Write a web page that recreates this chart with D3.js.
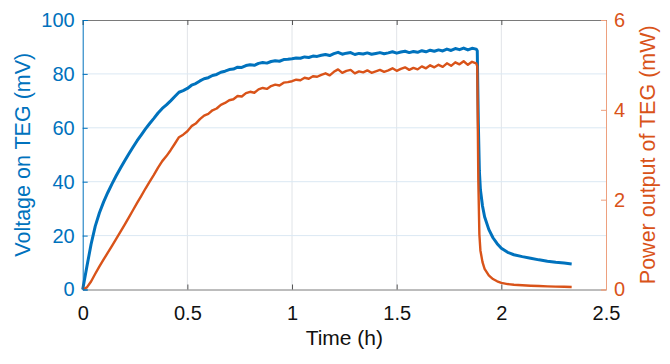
<!DOCTYPE html>
<html>
<head>
<meta charset="utf-8">
<script src="https://cdn.jsdelivr.net/npm/d3@7"></script>
<style>
body { margin: 0; background: #fff; }
text { font-family: "Liberation Sans", Arial, sans-serif; }
</style>
</head>
<body>
<script>
var w = 670;
var h = 364;
var margin = {top: 20, right: 64, bottom: 74.5, left: 82.7};

// sample times (h)
var time = [0,0.02,0.04,0.06,0.08,0.10,0.12,0.14,0.16,0.18,
    0.20,0.22,0.24,0.26,0.28,0.30,0.32,0.34,0.36,0.38,
    0.40,0.42,0.44,0.46,0.48,0.50,0.52,0.54,0.56,0.58,
    0.60,0.62,0.64,0.66,0.68,0.70,0.72,0.74,0.76,0.78,
    0.80,0.82,0.84,0.86,0.88,0.90,0.92,0.94,0.96,0.98,
    1.00,1.02,1.04,1.06,1.08,1.10,1.12,1.14,1.16,1.18,
    1.20,1.22,1.24,1.26,1.28,1.30,1.32,1.34,1.36,1.38,
    1.40,1.42,1.44,1.46,1.48,1.50,1.52,1.54,1.56,1.58,
    1.60,1.62,1.64,1.66,1.68,1.70,1.72,1.74,1.76,1.78,
    1.80,1.82,1.84,1.86,1.88,
    1.885,1.89,1.895,1.90,1.91,1.92,1.94,1.96,1.98,2.00,
    2.03,2.06,2.10,2.14,2.18,2.22,2.26,2.30,2.336];

// voltage on TEG (mV)
var voltage = [0,8.5,16.8,23.5,28.5,32.5,36,39.2,42.2,45.0,
    47.7,50.3,52.8,55.2,57.4,59.6,61.6,63.5,65.5,67.2,
    68.5,70,71.6,73.2,73.8,74.6,75.8,76.4,77.4,78.2,
    78.6,79.4,79.8,80.6,81,81.6,81.8,82.5,82.4,83.1,
    83.4,83.2,83.9,84.2,84.0,84.6,84.9,84.7,85.3,85.4,
    85.6,85.9,85.8,86.3,86.1,86.6,86.5,86.9,87.2,86.8,
    87.5,88.0,87.3,87.7,87.9,87.2,87.6,87.4,87.8,87.3,
    87.6,87.9,87.5,87.8,88.2,87.7,88.1,88.4,87.9,88.3,
    88.0,88.6,88.2,88.8,88.4,88.9,88.5,89.2,88.7,89.4,
    89.0,89.6,88.9,89.5,89.2,
    88.6,62,44,37,31,27,22.3,19.2,17,15.3,
    13.8,12.9,12.2,11.6,11.0,10.5,10.1,9.8,9.5];

// power output of TEG (mW)
var power = [0,0.046,0.179,0.350,0.514,0.668,0.820,0.973,1.127,1.282,
    1.440,1.601,1.765,1.929,2.085,2.248,2.402,2.552,2.715,2.858,
    2.970,3.101,3.245,3.391,3.447,3.522,3.637,3.694,3.792,3.870,
    3.910,3.990,4.030,4.112,4.153,4.214,4.235,4.308,4.297,4.371,
    4.402,4.381,4.455,4.487,4.466,4.530,4.562,4.541,4.605,4.616,
    4.637,4.670,4.659,4.714,4.692,4.747,4.736,4.780,4.813,4.768,
    4.846,4.901,4.824,4.868,4.890,4.813,4.857,4.835,4.879,4.824,
    4.857,4.890,4.846,4.879,4.924,4.868,4.912,4.946,4.890,4.935,
    4.901,4.968,4.924,4.991,4.946,5.002,4.957,5.036,4.980,5.058,
    5.013,5.081,5.002,5.070,5.036,
    4.97,2.43,1.23,0.87,0.61,0.46,0.315,0.233,0.183,0.148,
    0.121,0.105,0.094,0.085,0.077,0.070,0.065,0.061,0.057];

var xTicks = [0, 0.5, 1, 1.5, 2, 2.5];
var yLeftTicks = [0, 20, 40, 60, 80, 100];
var yRightTicks = [0, 2, 4, 6];

var blue = "#0072BD";
var orange = "#D95319";

var iw = w - margin.left - margin.right;
var ih = h - margin.top - margin.bottom;

var xScale = d3.scaleLinear().domain([0, 2.5]).range([0, iw]);
var yLeft = d3.scaleLinear().domain([0, 100]).range([ih, 0]);
var yRight = d3.scaleLinear().domain([0, 6]).range([ih, 0]);

var svg = d3.select("body")
    .append("svg")
    .attr("width", w)
    .attr("height", h);

var g = svg.append("g")
    .attr("transform", "translate(" + margin.left + "," + margin.top + ")");

//grid lines
g.append("g")
    .selectAll("line")
    .data(xTicks.slice(1, -1))
    .enter()
    .append("line")
    .attr("x1", function(d) { return xScale(d); })
    .attr("x2", function(d) { return xScale(d); })
    .attr("y1", 0)
    .attr("y2", ih)
    .attr("stroke", "#e1e4e8")
    .attr("stroke-width", 1);

g.append("g")
    .selectAll("line")
    .data(yLeftTicks.slice(1, -1))
    .enter()
    .append("line")
    .attr("x1", 0)
    .attr("x2", iw)
    .attr("y1", function(d) { return yLeft(d); })
    .attr("y2", function(d) { return yLeft(d); })
    .attr("stroke", "#dbe8f3")
    .attr("stroke-width", 1);

//top frame with mirrored ticks
var topAxis = d3.axisTop(xScale).tickValues(xTicks).tickSize(-5).tickFormat("");
g.append("g")
    .call(topAxis)
    .call(function(s) {
        s.select(".domain").attr("stroke", "#7a7a7a");
        s.selectAll(".tick line").attr("stroke", "#555");
    });

//lines
var pts = time.map(function(t, i) { return [t, voltage[i], power[i]]; });

var voltLine = d3.line()
    .x(function(d) { return xScale(d[0]); })
    .y(function(d) { return yLeft(d[1]); });

var powLine = d3.line()
    .x(function(d) { return xScale(d[0]); })
    .y(function(d) { return yRight(d[2]); });

g.append("path")
    .datum(pts)
    .attr("d", voltLine)
    .attr("fill", "none")
    .attr("stroke", blue)
    .attr("stroke-width", 3)
    .attr("stroke-linejoin", "round");

g.append("path")
    .datum(pts)
    .attr("d", powLine)
    .attr("fill", "none")
    .attr("stroke", orange)
    .attr("stroke-width", 2.4)
    .attr("stroke-linejoin", "round");

//axes
var xAxis = d3.axisBottom(xScale).tickValues(xTicks).tickSize(-5).tickPadding(16)
    .tickFormat(d3.format("~g"));
g.append("g")
    .attr("transform", "translate(0," + ih + ")")
    .call(xAxis)
    .call(function(s) {
        s.select(".domain").attr("stroke", "#7a7a7a");
        s.selectAll(".tick line").attr("stroke", "#555");
        s.selectAll("text").attr("fill", "#111").attr("font-size", "20px")
            .attr("font-family", "Liberation Sans, Arial, sans-serif");
    });

var leftAxis = d3.axisLeft(yLeft).tickValues(yLeftTicks).tickSize(-5).tickPadding(8);
g.append("g")
    .call(leftAxis)
    .call(function(s) {
        s.selectAll(".domain, .tick line").attr("stroke", blue);
        s.selectAll("text").attr("fill", blue).attr("font-size", "20px")
            .attr("font-family", "Liberation Sans, Arial, sans-serif");
    });

var rightAxis = d3.axisRight(yRight).tickValues(yRightTicks).tickSize(-5).tickPadding(8)
    .tickFormat(d3.format("d"));
g.append("g")
    .attr("transform", "translate(" + iw + ",0)")
    .call(rightAxis)
    .call(function(s) {
        s.selectAll(".domain, .tick line").attr("stroke", "#eda07e");
        s.selectAll("text").attr("fill", orange).attr("font-size", "20px")
            .attr("font-family", "Liberation Sans, Arial, sans-serif");
    });

//axis labels
svg.append("text")
    .attr("x", margin.left + iw / 2)
    .attr("y", 345)
    .attr("text-anchor", "middle")
    .attr("font-size", "21px")
    .attr("fill", "#111")
    .text("Time (h)");

svg.append("text")
    .attr("transform", "translate(30," + (margin.top + ih / 2) + ") rotate(-90)")
    .attr("text-anchor", "middle")
    .attr("font-size", "21.5px")
    .attr("fill", blue)
    .text("Voltage on TEG (mV)");

svg.append("text")
    .attr("transform", "translate(655," + (margin.top + ih / 2) + ") rotate(-90)")
    .attr("text-anchor", "middle")
    .attr("font-size", "21.5px")
    .attr("fill", orange)
    .text("Power output of TEG (mW)");
</script>
</body>
</html>
